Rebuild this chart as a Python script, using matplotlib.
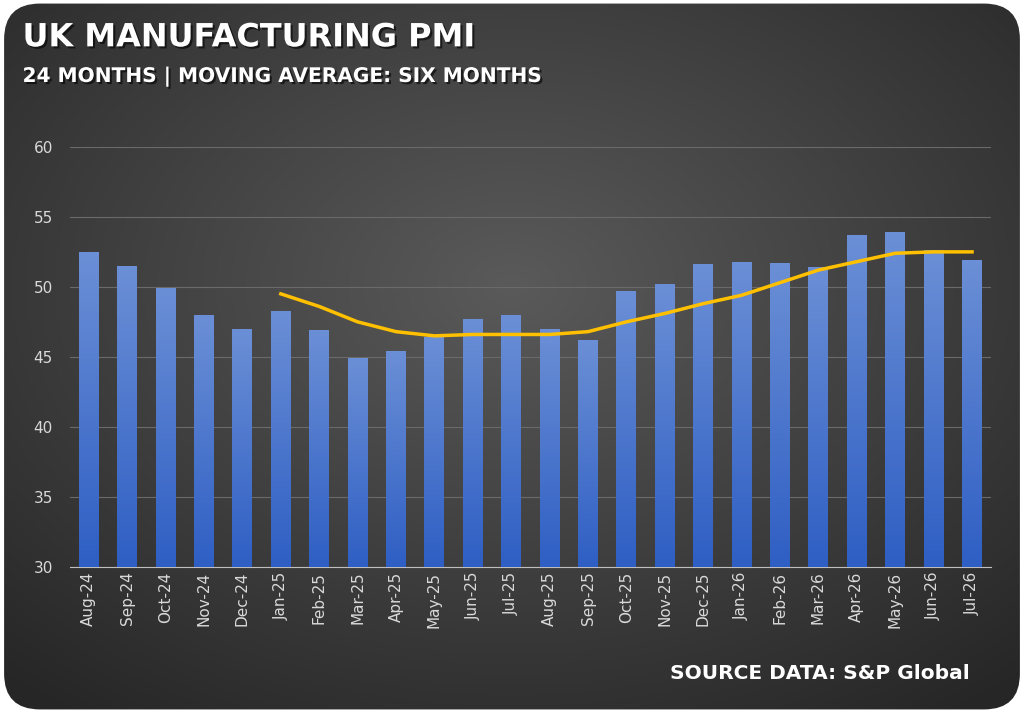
import matplotlib
matplotlib.use("Agg")

import matplotlib.pyplot as plt
import numpy as np
from matplotlib.colors import LinearSegmentedColormap
from matplotlib.patches import FancyBboxPatch
import matplotlib.patheffects as pe

months = ["Aug-24", "Sep-24", "Oct-24", "Nov-24", "Dec-24", "Jan-25", "Feb-25", "Mar-25",
          "Apr-25", "May-25", "Jun-25", "Jul-25", "Aug-25", "Sep-25", "Oct-25", "Nov-25",
          "Dec-25", "Jan-26", "Feb-26", "Mar-26", "Apr-26", "May-26", "Jun-26", "Jul-26"]
pmi = [52.5, 51.5, 49.9, 48.0, 47.0, 48.3, 46.9, 44.9, 45.4, 46.4, 47.7, 48.0,
       47.0, 46.2, 49.7, 50.2, 51.6, 51.8, 51.7, 51.4, 53.7, 53.9, 52.6, 51.9]
# six-month moving average, starting Jan-25
ma_start = 5
moving_avg = [49.5, 48.6, 47.5, 46.8, 46.5, 46.6, 46.6, 46.6, 46.8, 47.5, 48.1, 48.8,
              49.4, 50.3, 51.2, 51.8, 52.4, 52.5, 52.5]

fig = plt.figure(figsize=(10.24, 7.13), dpi=100)
fig.patch.set_facecolor("white")

# background panel with radial gradient
bg = fig.add_axes([0, 0, 1, 1])
bg.set_xlim(0, 1)
bg.set_ylim(0, 1)
bg.axis("off")
yy, xx = np.mgrid[0:1:300j, 0:1:400j]
r = np.sqrt(((xx - 0.5) / 0.75) ** 2 + ((yy - 0.6) / 0.75) ** 2)
grad = np.clip(1 - r, 0, 1)
bg_cmap = LinearSegmentedColormap.from_list("bg", ["#262626", "#5a5a5a"])
img = bg.imshow(grad, extent=[0, 1, 0, 1], origin="lower", cmap=bg_cmap,
                vmin=0, vmax=1, aspect="auto")
panel = FancyBboxPatch((0.004, 0.005), 0.992, 0.99, boxstyle="round,pad=0,rounding_size=0.035",
                       transform=bg.transAxes, facecolor="none", edgecolor="none",
                       mutation_aspect=1024 / 713)
bg.add_patch(panel)
img.set_clip_path(panel)

ax = fig.add_axes([0.068, 0.205, 0.9, 0.589])
ax.set_facecolor("none")
x = np.arange(len(months))
bars = ax.bar(x, pmi, width=0.52, color="none", zorder=3)
vert = np.linspace(0, 1, 100).reshape(-1, 1)
bar_cmap = LinearSegmentedColormap.from_list("b", ["#2f5fc4", "#6b8fd6"])
for b in bars:
    gi = ax.imshow(vert, extent=[b.get_x(), b.get_x() + b.get_width(), 30, b.get_height()],
                   origin="lower", cmap=bar_cmap, aspect="auto", zorder=3)
    gi.set_clip_path(b)
ax.plot(x[ma_start:], moving_avg, color="#ffc000", lw=2.5, zorder=4)

ax.set_xlim(-0.5, len(months) - 0.5)
ax.set_ylim(30, 60)
ax.set_yticks(range(30, 61, 5))
ax.set_xticks(x)
ax.set_xticklabels(months, rotation=90)
ax.tick_params(colors="#d9d9d9", labelsize=11, length=0)
ax.tick_params(axis="y", pad=12)
ax.grid(axis="y", color="#6a6a6a", lw=0.8, zorder=0)
for s in ["top", "right", "left"]:
    ax.spines[s].set_visible(False)
ax.spines["bottom"].set_color("#bfbfbf")

shadow = [pe.withSimplePatchShadow(offset=(1.5, -1.5), shadow_rgbFace="black", alpha=0.6)]
fig.text(0.022, 0.935, "UK MANUFACTURING PMI", color="white", fontsize=23,
         fontweight="bold", path_effects=shadow)
fig.text(0.022, 0.885, "24 MONTHS | MOVING AVERAGE: SIX MONTHS", color="white",
         fontsize=14.5, fontweight="bold", path_effects=shadow)
fig.text(0.947, 0.048, "SOURCE DATA: S&P Global", color="white", fontsize=14.5,
         fontweight="bold", ha="right")

fig.savefig("out.png", dpi=100, facecolor="white")
